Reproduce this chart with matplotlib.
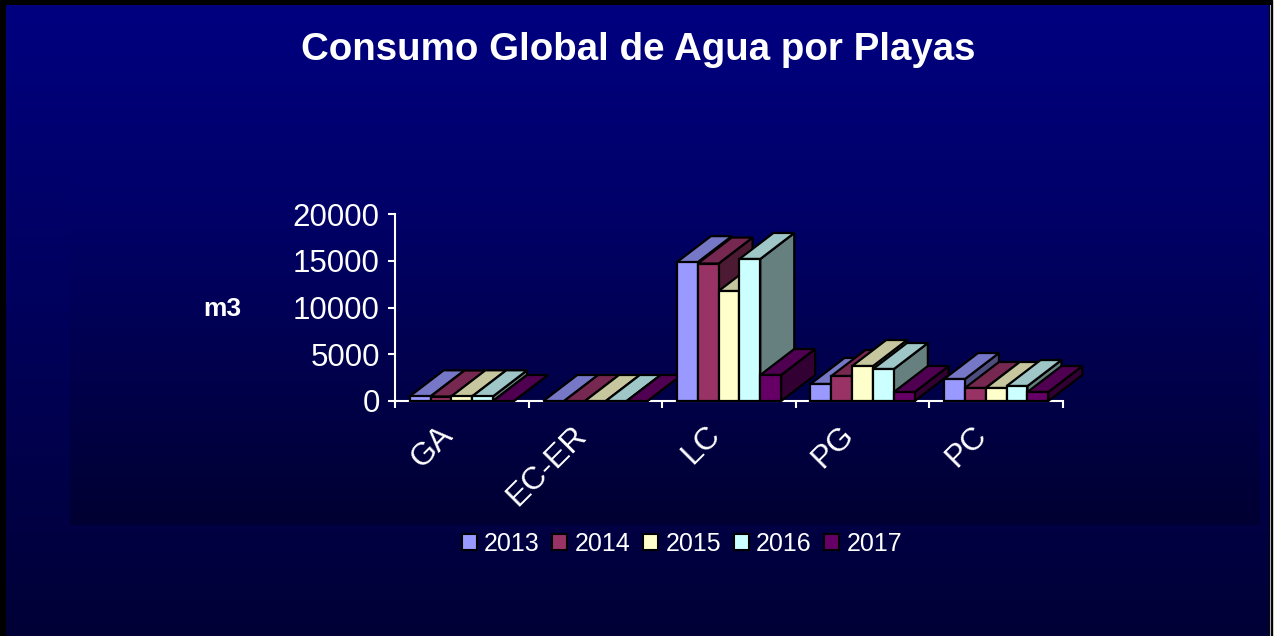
import numpy as np
import matplotlib.pyplot as plt
import matplotlib.transforms as mtransforms
from matplotlib.patches import Polygon, Rectangle, Patch

plt.rcParams['font.family'] = ['Liberation Sans', 'DejaVu Sans']

# -------------------------------
# Data (m3 per beach and year)
# -------------------------------
categories = ["GA", "EC-ER", "LC", "PG", "PC"]
years = ["2013", "2014", "2015", "2016", "2017"]
v2013 = [500, 0, 14850, 1820, 2350]
v2014 = [480, 0, 14700, 2670, 1390]
v2015 = [500, 0, 11760, 3740, 1390]
v2016 = [500, 0, 15190, 3420, 1600]
v2017 = [0, 0, 2780, 960, 960]
series = [v2013, v2014, v2015, v2016, v2017]
colors = ["#9999FF", "#993366", "#FFFFCC", "#CCFFFF", "#660066"]

W, H = 1274, 636
fig = plt.figure(figsize=(W / 100, H / 100), dpi=100, facecolor="white")

# -------------------------------
# Background (pixel coordinates)
# -------------------------------
bg = fig.add_axes([0, 0, 1, 1])
bg.set_xlim(0, W)
bg.set_ylim(H, 0)
bg.axis("off")
bg.add_patch(Rectangle((0, 0), 1272, H, color="black", zorder=0))

def vgrad(top, bottom, n=256):
    g = np.linspace(top, bottom, n)
    img = np.zeros((n, 1, 3))
    img[:, 0, 2] = g / 255.0
    return img

bg.imshow(vgrad(128, 54), extent=(6, 1269, H, 5), aspect="auto", zorder=1)
bg.imshow(vgrad(110, 50), extent=(70, 1260, 525, 175), aspect="auto", zorder=2)
bg.plot([1269.5, 1269.5], [5, H], color="#b0b0b0", lw=0.8, zorder=3)

fig.text(638 / W, 1 - 50 / H, "Consumo Global de Agua por Playas", color="white",
         fontsize=27.7, fontweight="bold", ha="center", va="center")
fig.text(222 / W, 1 - 309 / H, "m3", color="white", fontsize=19,
         fontweight="bold", ha="center", va="center")

# -------------------------------
# Main axes
# -------------------------------
x_left, x_right, y_zero, y_top = 395, 1063, 401, 214
ax = fig.add_axes([x_left / W, 1 - y_zero / H, (x_right - x_left) / W, (y_zero - y_top) / H])
ax.set_xlim(0, len(categories))
ax.set_ylim(0, 20000)
ax.patch.set_alpha(0)

for s in ["top", "right"]:
    ax.spines[s].set_visible(False)
for s in ["left", "bottom"]:
    ax.spines[s].set_color("white")
    ax.spines[s].set_linewidth(1.5)
    ax.spines[s].set_zorder(0.5)

ax.set_yticks([0, 5000, 10000, 15000, 20000])
ax.set_xticks(range(len(categories) + 1))
ax.set_xticklabels([])
ax.tick_params(axis="y", colors="white", labelsize=22.5, length=5, width=1.5, pad=6)
ax.tick_params(axis="x", colors="white", length=5, width=1.5)

# 3D depth in data units
px_x = len(categories) / (x_right - x_left)
px_y = 20000 / (y_zero - y_top)
dx, dy = 34 * px_x, 26 * px_y

gap = 0.11
bw = (1 - 2 * gap) / len(years)

def shade(c, f):
    r, g, b = plt.matplotlib.colors.to_rgb(c)
    return (r * f, g * f, b * f)

z = 1
for i in range(len(categories)):
    for j, vals in enumerate(series):
        v = vals[i]
        x0 = i + gap + j * bw
        x1 = x0 + bw
        side = [(x1, 0), (x1 + dx, dy), (x1 + dx, v + dy), (x1, v)]
        top = [(x0, v), (x1, v), (x1 + dx, v + dy), (x0 + dx, v + dy)]
        kw = dict(edgecolor="black", linewidth=1.6, joinstyle="miter", clip_on=False)
        ax.add_patch(Polygon(side, closed=True, facecolor=shade(colors[j], 0.5), zorder=z, **kw))
        ax.add_patch(Polygon(top, closed=True, facecolor=shade(colors[j], 0.78), zorder=z, **kw))
        if v > 0:
            ax.add_patch(Rectangle((x0, 0), bw, v, facecolor=colors[j], zorder=z, **kw))
        z += 0.01

# category labels, rotated
off = mtransforms.ScaledTranslation(-3 / 100, -19 / 100, fig.dpi_scale_trans)
for i, cat in enumerate(categories):
    ax.text(i + 0.5, 0, cat, rotation=45, ha="right", va="top", color="white",
            fontsize=23, transform=ax.transData + off)

# legend
handles = [Patch(facecolor=c, edgecolor="black", linewidth=1.5) for c in colors]
leg = fig.legend(handles, years, loc="center", bbox_to_anchor=(682 / W, 1 - 544 / H),
                 ncol=5, frameon=False, fontsize=18, handlelength=0.6, handleheight=0.6,
                 handletextpad=0.3, columnspacing=0.5, borderaxespad=0)
for t in leg.get_texts():
    t.set_color("white")

fig.savefig("out.png", dpi=100)
